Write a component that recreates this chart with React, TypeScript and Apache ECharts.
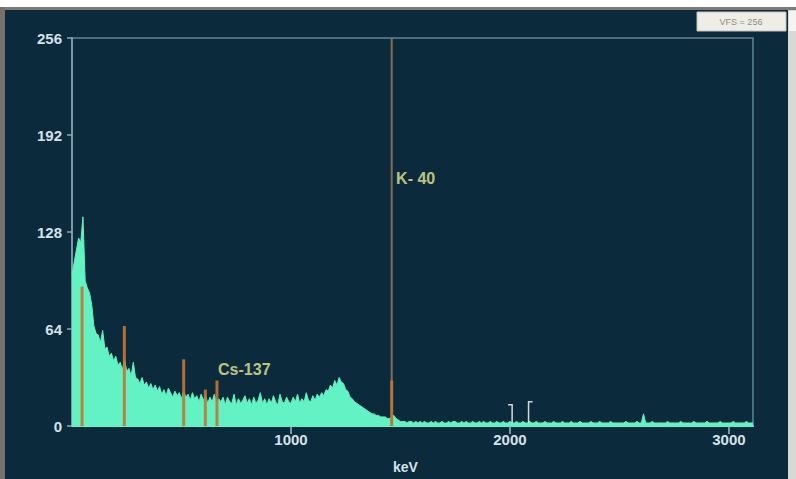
import React, { useEffect, useRef } from "react";
import * as echarts from "echarts";

// Spectrum: counts per 10 keV channel, starting at 0 keV
const KEV_PER_CHANNEL = 10;
const counts = [
  100, 108, 116, 124, 121, 138, 96, 91, 88, 80,
  66, 61, 60, 55, 63, 51, 52, 46, 48, 43,
  46, 40, 42, 37, 44, 36, 38, 33, 42, 32,
  31, 28, 32, 27, 29, 25, 28, 24, 27, 23,
  26, 21, 24, 20, 25, 22, 19, 23, 20, 22,
  18, 23, 19, 21, 17, 22, 18, 20, 16, 21,
  17, 20, 15, 19, 16, 21, 15, 18, 16, 19,
  14, 19, 16, 15, 21, 14, 18, 15, 17, 20,
  15, 18, 14, 19, 15, 17, 22, 15, 18, 14,
  18, 15, 20, 16, 14, 21, 16, 15, 19, 16,
  15, 19, 16, 21, 15, 18, 16, 22, 17, 16,
  20, 17, 21, 19, 22, 20, 24, 23, 27, 25,
  30, 27, 32, 29, 28, 24, 23, 19, 18, 16,
  15, 14, 13, 12, 11, 10, 9, 8, 8, 7,
  7, 6, 6, 6, 5, 5, 6, 7, 5, 4,
  3, 3, 3, 2, 3, 3, 2, 3, 2, 3,
  2, 3, 2, 2, 3, 2, 3, 2, 2, 3,
  2, 2, 3, 2, 3, 3, 2, 2, 3, 2,
  3, 2, 2, 3, 2, 2, 3, 2, 3, 2,
  2, 3, 2, 2, 3, 2, 2, 3, 2, 2,
  3, 2, 2, 3, 2, 2, 3, 2, 2, 3,
  2, 2, 3, 2, 2, 2, 3, 2, 2, 2,
  3, 2, 2, 2, 3, 2, 2, 2, 3, 2,
  2, 2, 3, 2, 2, 2, 2, 3, 2, 2,
  2, 3, 2, 2, 2, 2, 3, 2, 2, 2,
  2, 2, 2, 3, 2, 2, 2, 2, 3, 2,
  2, 8, 2, 2, 2, 3, 2, 2, 2, 2,
  2, 2, 3, 2, 2, 2, 2, 2, 3, 2,
  2, 2, 2, 2, 3, 2, 2, 2, 2, 2,
  3, 2, 2, 2, 2, 2, 3, 2, 2, 2,
  2, 2, 3, 2, 2, 2, 2, 2, 3, 2,
  2, 2,
];

// Orange peak markers (keV, height in counts)
const peakKeV = [46, 239, 510, 609, 662, 1460];
const peakHeight = [92, 66, 44, 24, 30, 30];

// K-40 full-height marker line
const k40KeV = 1460;
const Y_MAX = 256;

// White ROI brackets near 2000 keV
const roiKeV = [2010, 2085];
const roiTop = [14, 16];
const roiDir = [-1, 1];

// Labels
const labelNames = ["K- 40", "Cs-137"];
const labelKeV = [1480, 667];
const labelCounts = [163, 37];

const yTicks = [0, 64, 128, 192, 256];
const xTicks = [1000, 2000, 3000];
const X_MAX = 3110;

export default function App() {
  const ref = useRef<HTMLDivElement>(null);

  useEffect(() => {
    if (!ref.current) return;
    const chart = echarts.init(ref.current, null, { renderer: "svg" });

    const spectrum = counts.map((c, i) => [i * KEV_PER_CHANNEL, c]);
    const peaks = peakKeV.map((k, i) => [k, peakHeight[i]]);
    const roi = roiKeV.map((k, i) => [k, roiTop[i], roiDir[i]]);
    const labels = labelNames.map((n, i) => ({
      value: [labelKeV[i], labelCounts[i]],
      name: n,
    }));

    const textColor = "#d6e2e8";
    const font = "'Liberation Sans', Arial, sans-serif";

    chart.setOption({
      animation: false,
      backgroundColor: "#0b2b3d",
      grid: {
        left: 72,
        right: 43,
        top: 38,
        bottom: 51,
        show: true,
        borderColor: "#5b8898",
        borderWidth: 1.5,
      },
      graphic: [
        { type: "rect", shape: { x: 0, y: 0, width: 796, height: 8 }, style: { fill: "#ffffff" }, z: 100 },
        { type: "rect", shape: { x: 0, y: 7, width: 796, height: 3 }, style: { fill: "#7e7a76" }, z: 100 },
        { type: "rect", shape: { x: 0, y: 7, width: 5, height: 472 }, style: { fill: "#77716c" }, z: 100 },
        { type: "rect", shape: { x: 788, y: 10, width: 8, height: 469 }, style: { fill: "#d8d8d6" }, z: 100 },
        { type: "rect", shape: { x: 789, y: 11, width: 7, height: 20 }, style: { fill: "#f4f4f2" }, z: 101 },
        {
          type: "rect",
          shape: { x: 697, y: 12, width: 89, height: 19 },
          style: { fill: "#efeee6", stroke: "#c4c3bb", lineWidth: 1 },
          z: 100,
        },
        {
          type: "text",
          x: 741,
          y: 21.5,
          style: {
            text: "VFS = 256",
            fill: "#8a8a86",
            font: "9px " + font,
            align: "center",
            verticalAlign: "middle",
          },
          z: 101,
        },
      ],
      xAxis: {
        type: "value",
        min: 0,
        max: X_MAX,
        splitLine: { show: false },
        axisLine: { show: true, lineStyle: { color: "#62f2c3", width: 2 } },
        axisTick: {
          show: true,
          customValues: xTicks,
          length: 8,
          lineStyle: { color: "#a9bcc4", width: 1.5 },
        },
        axisLabel: {
          customValues: xTicks,
          formatter: (v: number) => String(v),
          color: textColor,
          fontSize: 15,
          fontWeight: "bold",
          fontFamily: font,
          margin: 6,
        },
        name: "keV",
        nameLocation: "middle",
        nameGap: 34,
        nameTextStyle: {
          color: textColor,
          fontSize: 14,
          fontWeight: "bold",
          fontFamily: font,
          padding: [0, 14, 0, 0],
        },
      },
      yAxis: {
        type: "value",
        min: 0,
        max: Y_MAX,
        interval: 64,
        splitLine: { show: false },
        axisLine: { show: true, lineStyle: { color: "#8ea8b2", width: 1.5 } },
        axisTick: { show: true, length: 5, lineStyle: { color: "#8ea8b2", width: 1.5 } },
        axisLabel: {
          customValues: yTicks,
          formatter: (v: number) => String(v),
          color: textColor,
          fontSize: 15,
          fontWeight: "bold",
          fontFamily: font,
          margin: 10,
        },
      },
      series: [
        {
          type: "line",
          data: spectrum,
          symbol: "none",
          lineStyle: { color: "#62f2c3", width: 1 },
          itemStyle: { color: "#62f2c3" },
          areaStyle: { color: "#62f2c3", opacity: 1 },
          z: 2,
        },
        {
          type: "line",
          data: [
            [k40KeV, 0],
            [k40KeV, Y_MAX],
          ],
          symbol: "none",
          lineStyle: { color: "#8c6a52", width: 2 },
          z: 3,
        },
        {
          type: "bar",
          data: peaks,
          barWidth: 3,
          itemStyle: { color: "#c57530", opacity: 0.9 },
          z: 4,
        },
        {
          type: "custom",
          data: roi,
          renderItem: (_params: any, api: any) => {
            const x = api.value(0);
            const top = api.coord([x, api.value(1)]);
            const bot = api.coord([x, 2]);
            const dir = api.value(2);
            return {
              type: "polyline",
              shape: {
                points: [
                  [top[0] + dir * 4, top[1]],
                  [top[0], top[1]],
                  [bot[0], bot[1]],
                ],
              },
              style: { stroke: "#d3dadc", lineWidth: 1.5, fill: null },
            };
          },
          z: 5,
        },
        {
          type: "scatter",
          data: labels,
          symbolSize: 0,
          label: {
            show: true,
            position: "right",
            distance: 0,
            formatter: (p: any) => p.name,
            color: "#eeec96",
            fontSize: 16,
            fontWeight: "bold",
            fontFamily: font,
          },
          z: 6,
        },
      ],
    });

    return () => chart.dispose();
  }, []);

  return (
    <div
      ref={ref}
      style={{ position: "absolute", left: 0, top: 0, width: 796, height: 479 }}
    />
  );
}
